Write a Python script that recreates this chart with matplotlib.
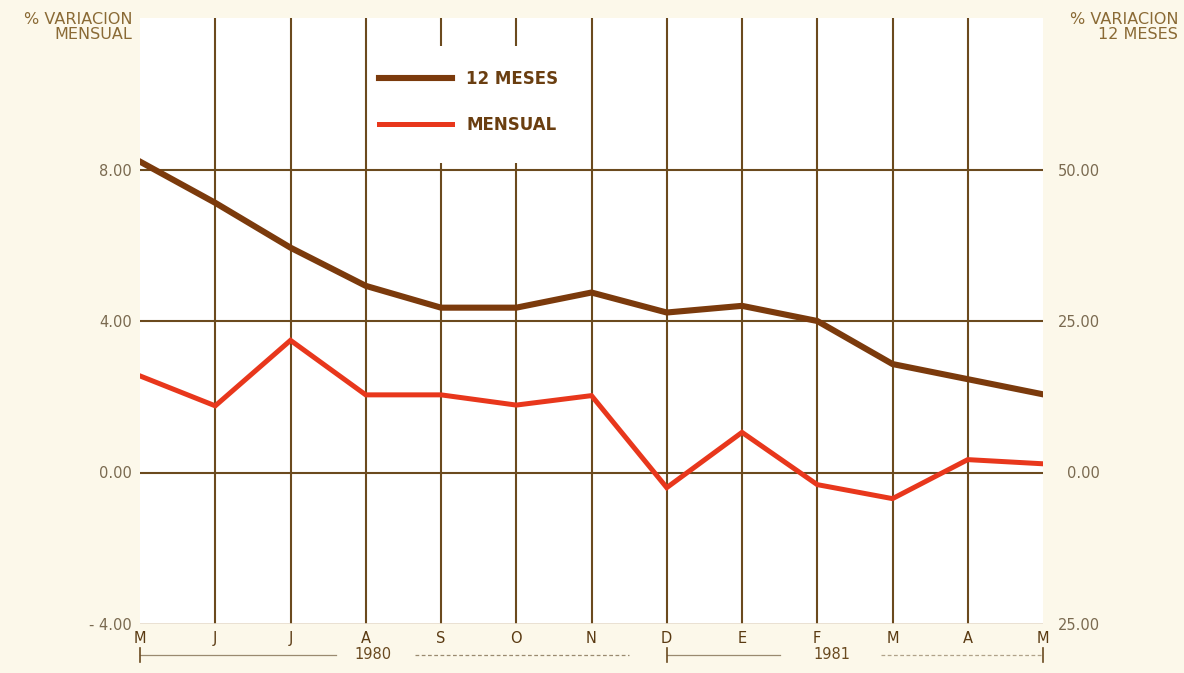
import matplotlib.pyplot as plt
from matplotlib.patches import Rectangle
from matplotlib.transforms import blended_transform_factory

months = ["M", "J", "J", "A", "S", "O", "N", "D", "E", "F", "M", "A", "M"]
doce_meses = [51.3, 44.5, 37.1, 30.8, 27.2, 27.2, 29.7, 26.4, 27.5, 25.0, 17.9, 15.4, 12.9]
mensual = [2.55, 1.76, 3.49, 2.05, 2.05, 1.78, 2.03, -0.40, 1.06, -0.32, -0.69, 0.34, 0.23]

left_ticks = [-4, 0, 4, 8]
left_labels = ["- 4.00", "0.00", "4.00", "8.00"]
right_ticks = [-25, 0, 25, 50]
right_labels = ["25.00", "0.00", "25.00", "50.00"]

bg = "#fcf8ea"
grid_c = "#6b4a1e"
brown = "#7b3a0c"
red = "#e8371c"
txt = "#8a6a35"
tick_c = "#7a6a50"

fig = plt.figure(figsize=(11.84, 6.73), dpi=100, facecolor=bg)
ax = fig.add_axes([140 / 1184, 49 / 673, 903 / 1184, 606 / 673])
ax.set_facecolor("white")
x = list(range(len(months)))

ax.set_xlim(0, len(months) - 1)
ax.set_ylim(-4, 12)

# grid
for xi in x[1:-1]:
    ax.axvline(xi, color=grid_c, lw=1.5, zorder=1)
for yv in [0, 4, 8]:
    ax.axhline(yv, color=grid_c, lw=1.5, zorder=1)
ax.axhline(-4, color="#e6dccb", lw=1.2, zorder=1)

for s in ax.spines.values():
    s.set_visible(False)

ax.set_yticks(left_ticks)
ax.set_yticklabels(left_labels)
ax.set_xticks(x)
ax.set_xticklabels(months)
ax.tick_params(axis="y", length=0, pad=6, labelsize=10.5, labelcolor=tick_c)
ax.tick_params(axis="x", length=0, pad=5, labelsize=10.5, labelcolor="#5a3a12")

ax2 = ax.twinx()
ax2.set_ylim(-25, 75)
for s in ax2.spines.values():
    s.set_visible(False)
ax2.set_yticks(right_ticks)
ax2.set_yticklabels(right_labels)
ax2.tick_params(axis="y", length=0, pad=41, labelsize=10.5, labelcolor=tick_c)
for lab in ax2.get_yticklabels():
    lab.set_ha("right")

# legend box hiding the grid
ax.add_patch(Rectangle((0.2547, 0.76), 0.2436, 0.193, transform=ax.transAxes,
                       facecolor="white", edgecolor="none", zorder=2))

l1, = ax2.plot(x, doce_meses, color=brown, lw=4.4, solid_joinstyle="miter", zorder=3)
l2, = ax.plot(x, mensual, color=red, lw=3.6, solid_joinstyle="miter", zorder=3)
ax2.set_zorder(ax.get_zorder() + 1)
ax2.patch.set_visible(False)

leg = ax2.legend([l1, l2], ["12 MESES", "MENSUAL"], loc="upper left",
                 bbox_to_anchor=(0.255, 0.928), frameon=False, handlelength=4.4,
                 handletextpad=0.85, labelspacing=1.7, borderpad=0,
                 prop={"weight": "bold", "size": 12})
for t in leg.get_texts():
    t.set_color("#6a3e10")

# year brackets under the axis
tr = blended_transform_factory(ax.transData, ax.transAxes)
yy = -0.051
ax.plot([0, 2.6], [yy, yy], color="#9a8a70", lw=0.9, transform=tr, clip_on=False)
ax.plot([0, 0], [yy - 0.012, yy + 0.012], color="#6a4a20", lw=1.2, transform=tr, clip_on=False)
ax.text(3.1, yy, "1980", transform=tr, ha="center", va="center", fontsize=10.5, color="#6a4a20")
ax.plot([3.65, 6.5], [yy, yy], color="#9a8a70", lw=0.9, ls=(0, (3, 2)), transform=tr, clip_on=False)
ax.plot([7, 8.5], [yy, yy], color="#9a8a70", lw=0.9, transform=tr, clip_on=False)
ax.plot([7, 7], [yy - 0.012, yy + 0.012], color="#6a4a20", lw=1.2, transform=tr, clip_on=False)
ax.text(9.2, yy, "1981", transform=tr, ha="center", va="center", fontsize=10.5, color="#6a4a20")
ax.plot([9.85, 12], [yy, yy], color="#b0a28a", lw=0.9, ls=(0, (3, 2)), transform=tr, clip_on=False)
ax.plot([12, 12], [yy - 0.012, yy + 0.012], color="#6a4a20", lw=1.2, transform=tr, clip_on=False)

# axis titles
fig.text(132 / 1184, 1 - 12 / 673, "% VARIACION\nMENSUAL", ha="right", va="top",
         fontsize=11.5, color=txt, linespacing=1.0, multialignment="right")
fig.text(1178 / 1184, 1 - 12 / 673, "% VARIACION\n12 MESES", ha="right", va="top",
         fontsize=11.5, color=txt, linespacing=1.0, multialignment="right")

fig.savefig("out.png", dpi=100, facecolor=bg)
